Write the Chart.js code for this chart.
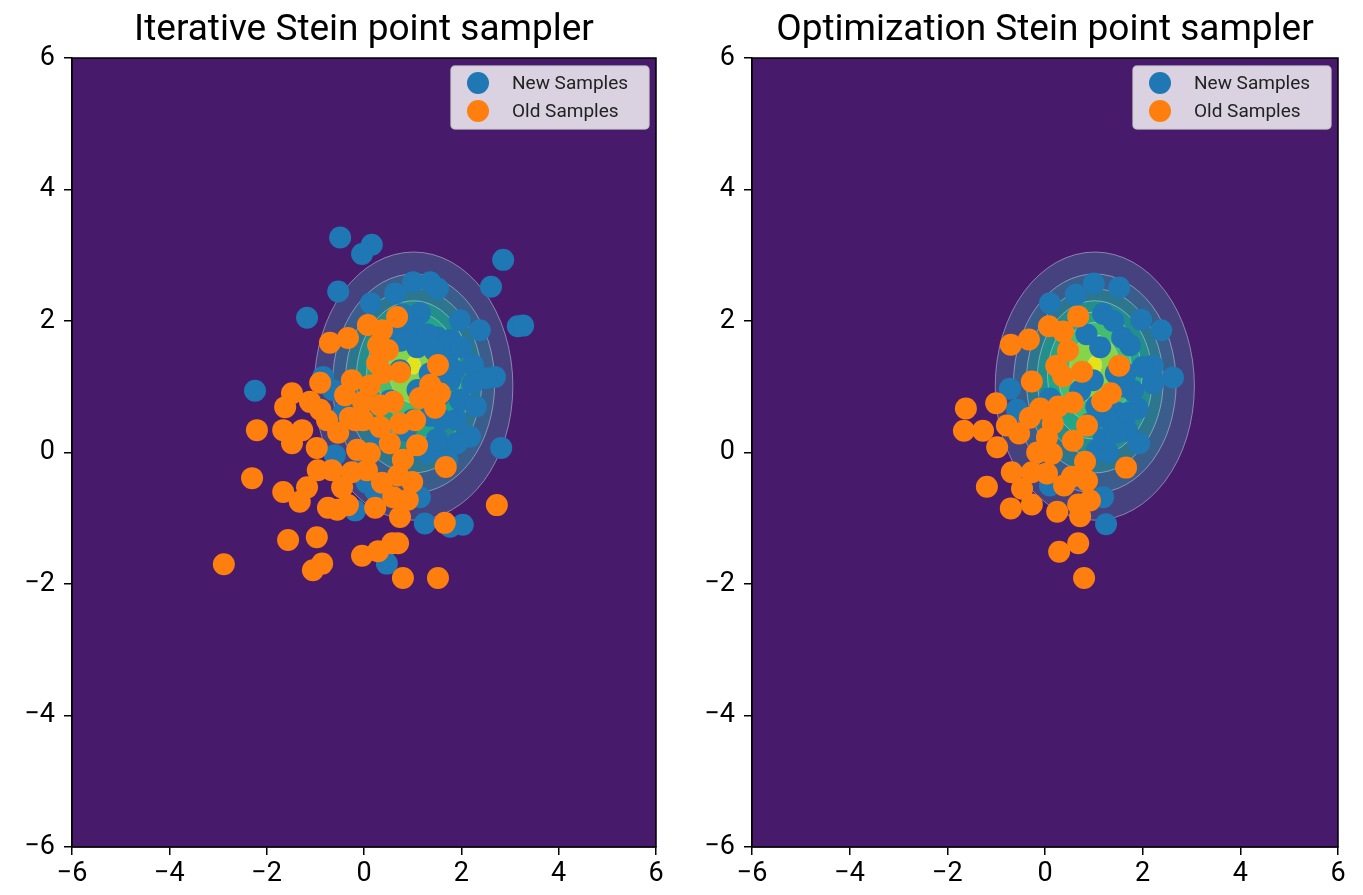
<!DOCTYPE html>
<html>
<head>
<meta charset="utf-8">
<script src="https://cdn.jsdelivr.net/npm/chart.js@4.4.1/dist/chart.umd.min.js"></script>
<style>
  body { margin: 0; background: #fff; width: 1363px; height: 895px; overflow: hidden; }
  .panel { position: absolute; top: 0; height: 895px; }
  #left { left: 0; width: 680px; }
  #right { left: 680px; width: 683px; }
</style>
</head>
<body>
<div class="panel" id="left"><canvas id="chartLeft"></canvas></div>
<div class="panel" id="right"><canvas id="chartRight"></canvas></div>
<script>
const titles = ["Iterative Stein point sampler", "Optimization Stein point sampler"];
const seriesLabels = ["New Samples", "Old Samples"];
const tickValues = [-6, -4, -2, 0, 2, 4, 6];

// left panel, new samples
const iterNewX = [-0.49, 0.16, -0.04, 2.86, -0.53, 2.61, -1.17, 3.16, 3.27, -2.24, 2.82, 2.03, 1.77, 1.25, 0.47,
  1.01, 1.36, 1.52, 0.64, 0.14, 2.38, 1.97, 2.24, 2.69, 2.51, 2.24, 2.18, 1.91, 1.29, 1.71, 1.15, -0.84, -0.64,
  1.15, 1.01, 1.09, 1.5, 1.77, 1.71, 1.77, 1.97, 0.64, 0.74, 0.53, 1.36, 0.86, 0.33, 1.56, -0.08, 0.23, -0.6,
  -0.18, -0.43, 0.06, 1.42, 1.35, 1.4, 1.3, 0.75, 1.1, 1.6, 1.9, 2.0, 1.3, 0.8, 1.0, 1.5, 2.3, 1.45, 1.85];
const iterNewY = [3.27, 3.16, 3.02, 2.93, 2.45, 2.52, 2.05, 1.92, 1.93, 0.94, 0.07, -1.1, -1.13, -1.08, -1.69,
  2.59, 2.59, 2.49, 2.42, 2.27, 1.86, 2.01, 1.33, 1.15, 1.13, 1.05, 0.24, 0.14, 0, -0.11, -0.68, 1.15, 0.95,
  2.12, 1.91, 1.6, 1.75, 1.71, 1.4, 1.1, 0.8, 1.86, 1.25, 0.79, 0.56, 0.33, 0.19, 0.87, -0.27, -0.58, -0.04,
  -0.88, 0.6, -0.46, 0.03, 1.2, 1.0, 0.8, 1.7, 0.95, 0.5, 0.5, 1.6, 1.8, 2.1, 0.5, 0.2, 0.7, 1.55, 1.25];

// left panel, old samples
const iterOldX = [0.68, 0.08, 0.37, -0.7, -0.33, 0.29, 0.49, 0.27, 0.39, 0.74, 1.52, -0.25, -0.9, 1.36, 1.56,
  1.15, 1.46, -1.48, -1.62, -1.11, -0.9, -0.76, -0.29, -0.02, 0.33, 0.6, -2.2, -1.66, -1.27, -1.48, -0.53,
  -0.02, 0.33, 0.74, 1.05, -0.97, -0.14, 0.12, 0.53, 1.09, 0.8, -2.3, -1.66, -1.32, -1.17, -0.95, -0.66, -0.45,
  -0.25, 0.06, 0.37, 0.7, 0.99, 0.9, 0.6, 0.23, -0.33, -0.74, -0.55, 0.74, 1.66, 1.68, 2.73, -1.56, -0.97,
  -0.86, -1.05, -0.04, 0.29, 0.58, 0.7, -2.88, 0.8, 1.52, -0.18, 0.12, -0.39];
const iterOldY = [2.06, 1.94, 1.86, 1.67, 1.74, 1.63, 1.56, 1.36, 1.21, 1.22, 1.33, 1.1, 1.06, 1.03, 0.9,
  0.83, 0.68, 0.9, 0.69, 0.77, 0.65, 0.49, 0.53, 0.77, 0.72, 0.77, 0.34, 0.34, 0.34, 0.14, 0.3,
  0.49, 0.39, 0.44, 0.49, 0.07, 0.04, -0.01, 0.14, 0.11, -0.11, -0.39, -0.6, -0.75, -0.53, -0.27, -0.27, -0.53,
  -0.3, -0.27, -0.46, -0.35, -0.45, -0.72, -0.68, -0.84, -0.8, -0.84, -0.87, -0.98, -1.07, -0.22, -0.8, -1.33, -1.29,
  -1.69, -1.79, -1.57, -1.5, -1.38, -1.38, -1.7, -1.91, -1.91, 0.49, 1.02, 0.87];

// right panel, new samples
const optNewX = [1.0, 1.52, 0.63, 0.1, 1.19, 1.97, 2.38, 1.58, 1.74, 1.13, 2.21, 2.62, 2.21, -0.72, 1.8, -0.57,
  0.1, 1.47, 1.9, 1.93, 1.29, 1.06, 0.1, 1.19, 1.25, 0.98, 0.72, 1.27, 0.92, 1.68,
  1.45, 1.55, 1.2, 1.65, 0.85, 1.4, 2.0, 1.7, 1.45, 1.05];
const optNewY = [2.57, 2.51, 2.4, 2.27, 2.11, 2.02, 1.86, 1.75, 1.63, 1.6, 1.32, 1.14, 1.05, 0.97, 0.94, 0.65,
  0.82, 0.61, 0.67, 0.14, 0, 0.03, -0.5, -0.68, -1.09, 1.1, 0.94, 0.53, 0.44, 0.33,
  1.2, 1.0, 0.2, 1.2, 1.8, 2.0, 1.3, 0.6, 0.3, 0.7];

// right panel, old samples
const optOldX = [0.68, 0.08, 0.37, -0.7, -0.33, 0.47, 0.23, 0.37, 0.76, 1.52, -0.27, 1.35, 1.17, -1.62, -1.0,
  -1.66, -1.27, -0.98, -0.78, -0.53, -0.31, -0.1, 0.27, 0.57, 0.86, 0.16, 0.57, 0.04, -0.16, 0.14, -1.19,
  -0.68, -0.27, 0.04, -0.47, 0.39, 0.55, 0.86, 0.82, 1.66, -0.7, -0.27, 0.25, 0.72, 0.68, 0.92, 0.68, 0.29, 0.8];
const optOldY = [2.07, 1.92, 1.84, 1.64, 1.72, 1.55, 1.32, 1.16, 1.23, 1.32, 1.08, 0.9, 0.78, 0.67, 0.75,
  0.33, 0.33, 0.08, 0.41, 0.29, 0.53, 0.67, 0.7, 0.76, 0.41, 0.44, 0.18, 0.23, 0, -0.02, -0.52,
  -0.3, -0.3, -0.32, -0.55, -0.5, -0.37, -0.43, -0.14, -0.23, -0.85, -0.79, -0.9, -0.97, -0.79, -0.73, -1.38, -1.51, -1.91];

// target density: gaussian-like bump, filled contour levels as fraction of the peak.
// the level sets drift upward toward the peak (slightly skewed target)
const targetMeanX = 1.02;
const levelMeanY = [1.01, 1.05, 1.09, 1.13, 1.17, 1.22, 1.27, 1.33];
const targetSigma = 1.0;
const levelFractions = [0.125, 0.25, 0.375, 0.5, 0.625, 0.75, 0.875, 0.99];
const bandColors = ["#46427f", "#3b5d8b", "#2d778e", "#228f8c", "#22a685", "#44bd71", "#86d449", "#e2e418"];
const bgColor = "#481a6c";

const BLUE = "#1f77b4";
const ORANGE = "#ff7f0e";

function toPoints(xs, ys) {
  return xs.map((x, i) => ({ x: x, y: ys[i] }));
}

function minusFmt(v) {
  return v < 0 ? "\u2212" + Math.abs(v) : String(v);
}

const contourPlugin = {
  id: "contour",
  beforeDatasetsDraw(chart) {
    const { ctx, chartArea: a, scales } = chart;
    ctx.save();
    ctx.beginPath();
    ctx.rect(a.left, a.top, a.width, a.height);
    ctx.clip();
    ctx.fillStyle = bgColor;
    ctx.fillRect(a.left, a.top, a.width, a.height);
    const cx = scales.x.getPixelForValue(targetMeanX);
    levelFractions.forEach((f, i) => {
      const r = targetSigma * Math.sqrt(-2 * Math.log(f));
      const cy = scales.y.getPixelForValue(levelMeanY[i]);
      const rx = scales.x.getPixelForValue(targetMeanX + r) - cx;
      const ry = cy - scales.y.getPixelForValue(levelMeanY[i] + r);
      ctx.beginPath();
      ctx.ellipse(cx, cy, rx, ry, 0, 0, Math.PI * 2);
      ctx.fillStyle = bandColors[i];
      ctx.fill();
      ctx.strokeStyle = "rgba(215,215,235,0.55)";
      ctx.lineWidth = 0.9;
      ctx.stroke();
    });
    ctx.restore();
  },
  afterDraw(chart) {
    const { ctx, chartArea: a } = chart;
    ctx.save();
    // frame
    ctx.strokeStyle = "#000";
    ctx.lineWidth = 1.5;
    ctx.strokeRect(a.left, a.top, a.width, a.height);

    // title
    ctx.fillStyle = "#000";
    ctx.font = "37px Roboto";
    ctx.textAlign = "center";
    ctx.textBaseline = "alphabetic";
    ctx.fillText(chart.options.plugins.panelTitle, (a.left + a.right) / 2, 40);

    // legend box inside the axes
    const w = 198, h = 63;
    const lx = a.right - 7 - w, ly = a.top + 8;
    ctx.beginPath();
    ctx.roundRect(lx, ly, w, h, 4);
    ctx.fillStyle = "rgba(255,255,255,0.8)";
    ctx.fill();
    ctx.strokeStyle = "rgba(204,204,204,0.8)";
    ctx.lineWidth = 1.5;
    ctx.stroke();
    ctx.font = "19px Roboto";
    ctx.textAlign = "left";
    ctx.textBaseline = "middle";
    [[BLUE, seriesLabels[0]], [ORANGE, seriesLabels[1]]].forEach(([c, t], i) => {
      const yy = ly + 17 + i * 28;
      ctx.beginPath();
      ctx.arc(lx + 27, yy, 11, 0, Math.PI * 2);
      ctx.fillStyle = c;
      ctx.fill();
      ctx.fillStyle = "#222";
      ctx.fillText(t, lx + 61, yy + 1);
    });
    ctx.restore();
  }
};

function makeChart(id, title, newPts, oldPts, padRight) {
  const tickFont = { family: "Roboto", size: 27 };
  return new Chart(document.getElementById(id), {
    type: "scatter",
    data: {
      datasets: [
        { label: seriesLabels[1], data: oldPts, backgroundColor: ORANGE, pointRadius: 11, borderWidth: 0, order: 0 },
        { label: seriesLabels[0], data: newPts, backgroundColor: BLUE, pointRadius: 11, borderWidth: 0, order: 1 }
      ]
    },
    options: {
      responsive: true,
      maintainAspectRatio: false,
      animation: false,
      events: [],
      layout: { padding: { left: 0, right: padRight, top: 58, bottom: 0 } },
      plugins: { legend: { display: false }, tooltip: { enabled: false }, panelTitle: title },
      scales: {
        x: {
          min: -6, max: 6,
          afterFit: s => { s.height = 48; },
          afterBuildTicks: s => { s.ticks = tickValues.map(v => ({ value: v })); },
          ticks: { color: "#000", font: tickFont, padding: 3, callback: minusFmt, maxRotation: 0 },
          grid: { drawOnChartArea: false, drawTicks: true, tickLength: 8, color: "#000", lineWidth: 1.5 },
          border: { display: true, color: "#000", width: 1.5 }
        },
        y: {
          min: -6, max: 6,
          afterFit: s => { s.width = 72; },
          afterBuildTicks: s => { s.ticks = tickValues.map(v => ({ value: v })); },
          ticks: { color: "#000", font: tickFont, padding: 9, callback: minusFmt },
          grid: { drawOnChartArea: false, drawTicks: true, tickLength: 8, color: "#000", lineWidth: 1.5 },
          border: { display: true, color: "#000", width: 1.5 }
        }
      }
    },
    plugins: [contourPlugin]
  });
}

makeChart("chartLeft", titles[0], toPoints(iterNewX, iterNewY), toPoints(iterOldX, iterOldY), 24);
makeChart("chartRight", titles[1], toPoints(optNewX, optNewY), toPoints(optOldX, optOldY), 25);
</script>
</body>
</html>
